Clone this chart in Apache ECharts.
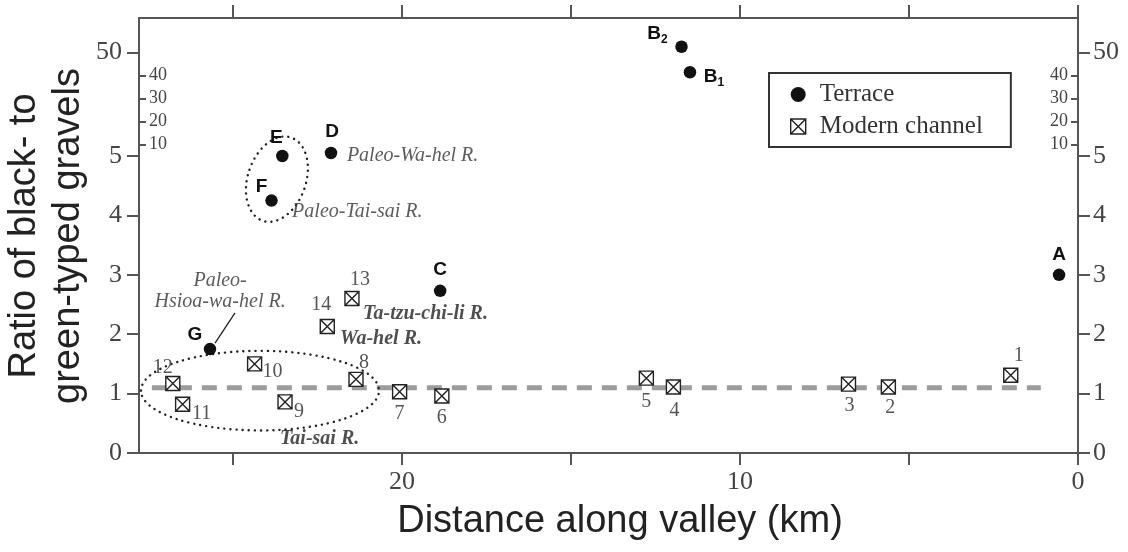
<!DOCTYPE html>
<html>
<head>
<meta charset="utf-8">
<title>Black / green gravel ratio along valley</title>
<script src="https://cdn.jsdelivr.net/npm/echarts@6/dist/echarts.min.js"></script>
<style>
  html, body { margin: 0; padding: 0; background: #fff; }
  #chart { width: 1128px; height: 552px; }
</style>
</head>
<body>
<div id="chart"></div>
<script>
// terrace samples (filled dots)
const terraceNames = ['A', 'B1', 'B2', 'C', 'D', 'E', 'F', 'G'];
const terraceDist = [0.56, 11.48, 11.73, 18.87, 22.1, 23.54, 23.86, 25.68];
const terraceRatio = [3.0, 41.4, 52.5, 2.73, 5.05, 5.0, 4.25, 1.75];

// modern channel samples (crossed squares)
const channelIds = ['1', '2', '3', '4', '5', '6', '7', '8', '9', '10', '11', '12', '13', '14'];
const channelDist = [1.99, 5.61, 6.79, 11.97, 12.77, 18.82, 20.07, 21.36, 23.46, 24.36, 26.49, 26.78, 21.48, 22.21];
const channelRatio = [1.31, 1.11, 1.16, 1.11, 1.26, 0.96, 1.03, 1.24, 0.86, 1.50, 0.82, 1.17, 2.60, 2.13];

// dashed reference line
const meanRatio = 1.1;
const meanLineDist = [27.4, 1.1];

// river annotations
const noteText = ['Paleo-Wa-hel R.', 'Paleo-Tai-sai R.', 'Paleo-\nHsioa-wa-hel R.', 'Ta-tzu-chi-li R.', 'Wa-hel R.', 'Tai-sai R.'];
const noteDist = [21.63, 23.25, 25.38, 21.15, 21.83, 23.61];
const noteRatio = [5.0, 4.06, 2.73, 2.34, 1.92, 0.24];
const noteBold = [false, false, false, true, true, true];

// leader line G -> Paleo-Hsioa-wa-hel R.
const leaderDist = [24.94, 25.53];
const leaderRatio = [2.36, 1.85];

// dotted groupings (centre, half extents)
const ellipseDist = [23.7, 24.2];
const ellipseRatio = [4.61, 1.05];
const ellipseHalfDist = [0.86, 3.52];
const ellipseHalfRatio = [0.74, 0.67];

// axis ticks
const distTicks = [0, 5, 10, 15, 20, 25];
const distLabels = [0, 10, 20];
const ratioTicksLow = [0, 1, 2, 3, 4, 5];
const ratioTicksHigh = [50];
const ratioTicksHighInner = [10, 20, 30, 40];

const DIST_MAX = 27.78;
const SPLIT = 5.1;   // above this a point goes to the compressed upper panel

const SERIF = '"Liberation Serif", "Times New Roman", serif';
const SANS = '"Liberation Sans", Arial, sans-serif';
const AX = '#555';
const LBL = '#444';

const terraceLabelOffset = {
  A: [0, -20], B1: [24, 4], B2: [-24, -13], C: [0, -21],
  D: [1, -21], E: [-6, -18], F: [-10, -14], G: [-15, -14]
};
const channelLabelOffset = {
  '1': [8, -19], '2': [2, 21], '3': [1, 22], '4': [1, 24], '5': [0, 24],
  '6': [0, 22], '7': [0, 22], '8': [8, -17], '9': [14, 10], '10': [18, 8],
  '11': [19, 9], '12': [-10, -16], '13': [8, -19], '14': [-6, -22]
};

const CHANNEL_SYMBOL = 'path://M0,0H20V20H0Z M0,0L20,20 M20,0L0,20';

function terraceItem(i) {
  const n = terraceNames[i];
  return {
    name: n,
    value: [terraceDist[i], terraceRatio[i]],
    label: { offset: terraceLabelOffset[n] }
  };
}
const terraceIdx = terraceNames.map((_, i) => i);
const terraceLow = terraceIdx.filter(i => terraceRatio[i] <= SPLIT).map(terraceItem);
const terraceHigh = terraceIdx.filter(i => terraceRatio[i] > SPLIT).map(terraceItem);

const terraceLabel = {
  show: true,
  position: 'inside',
  formatter: p => p.name.length > 1 ? '{b|' + p.name[0] + '}{s|' + p.name.slice(1) + '}' : '{b|' + p.name + '}',
  rich: {
    b: { fontFamily: SANS, fontWeight: 'bold', fontSize: 19, color: '#111', lineHeight: 24 },
    s: { fontFamily: SANS, fontWeight: 'bold', fontSize: 12, color: '#111', lineHeight: 12, verticalAlign: 'bottom' }
  }
};

function axisCommon() {
  return {
    type: 'value',
    axisLine: { show: true, onZero: false, lineStyle: { color: AX, width: 2 } },
    axisTick: { show: true, length: 12, lineStyle: { color: AX, width: 2 } },
    axisLabel: { fontFamily: SERIF, fontSize: 26, color: LBL },
    splitLine: { show: false }
  };
}

function xAxis(grid, position, showLabels) {
  const a = axisCommon();
  return Object.assign(a, {
    gridIndex: grid, min: 0, max: DIST_MAX, inverse: true, position: position,
    axisTick: Object.assign(a.axisTick, { customValues: distTicks, length: position === 'top' ? 13 : 12 }),
    axisLabel: Object.assign(a.axisLabel, { show: showLabels, customValues: distLabels, margin: 16 })
  });
}

function yOuter(grid, position, min, max, ticks) {
  const a = axisCommon();
  return Object.assign(a, {
    gridIndex: grid, min: min, max: max, position: position,
    axisTick: Object.assign(a.axisTick, { customValues: ticks }),
    axisLabel: Object.assign(a.axisLabel, { customValues: ticks, margin: position === 'left' ? 17 : 15 })
  });
}

function yInner(grid, position) {
  const a = axisCommon();
  return Object.assign(a, {
    gridIndex: grid, min: 5, max: 65, position: position,
    axisLine: { show: false, onZero: false },
    axisTick: Object.assign(a.axisTick, { customValues: ratioTicksHighInner, inside: true, length: 7 }),
    axisLabel: Object.assign(a.axisLabel, { customValues: ratioTicksHighInner, inside: true, margin: 10, fontSize: 18 })
  });
}

const gridBox = { left: 139, right: 50, outerBoundsMode: 'none', containLabel: false };

const option = {
  animation: false,
  backgroundColor: '#fff',
  grid: [
    Object.assign({ top: 156, bottom: 99 }, gridBox),
    Object.assign({ top: 18, height: 138 }, gridBox),
    Object.assign({ top: 18, height: 138 }, gridBox)
  ],
  xAxis: [
    xAxis(0, 'bottom', true),
    xAxis(1, 'top', false),
    { gridIndex: 2, type: 'value', show: false, min: 0, max: DIST_MAX, inverse: true }
  ],
  yAxis: [
    yOuter(0, 'left', 0, 5, ratioTicksLow),
    yOuter(0, 'right', 0, 5, ratioTicksLow),
    yOuter(1, 'left', 5, 65, ratioTicksHigh),
    yOuter(1, 'right', 5, 65, ratioTicksHigh),
    yInner(2, 'left'),
    yInner(2, 'right')
  ],
  legend: {
    orient: 'vertical',
    left: 769,
    top: 73,
    padding: [9, 28, 8, 21],
    itemGap: 7,
    itemWidth: 15,
    itemHeight: 15,
    borderColor: '#333',
    borderWidth: 2,
    textStyle: { fontFamily: SERIF, fontSize: 25, color: '#333', padding: [0, 0, 0, 9] },
    data: [
      { name: 'Terrace', icon: 'circle', itemStyle: { color: '#111' } },
      { name: 'Modern channel', icon: CHANNEL_SYMBOL, itemStyle: { color: '#fff', borderColor: '#222', borderWidth: 1.4 } }
    ]
  },
  graphic: [
    { type: 'text', x: 25, y: 236, rotation: Math.PI / 2,
      style: { text: 'Ratio of black- to', fontFamily: SANS, fontSize: 38, fill: '#222', align: 'center', verticalAlign: 'middle' } },
    { type: 'text', x: 69, y: 236, rotation: Math.PI / 2,
      style: { text: 'green-typed gravels', fontFamily: SANS, fontSize: 38, fill: '#222', align: 'center', verticalAlign: 'middle' } },
    { type: 'text', x: 620, y: 522,
      style: { text: 'Distance along valley (km)', fontFamily: SANS, fontSize: 38, fill: '#222', align: 'center', verticalAlign: 'middle' } }
  ],
  series: [
    {
      name: 'mean', type: 'line', xAxisIndex: 0, yAxisIndex: 0, silent: true, z: 1,
      symbol: 'none',
      data: meanLineDist.map(d => [d, meanRatio]),
      lineStyle: { color: '#9c9c9c', width: 5, type: [15, 10] }
    },
    {
      name: 'groups', type: 'custom', xAxisIndex: 0, yAxisIndex: 0, silent: true, z: 2, clip: false,
      data: ellipseDist.map((d, i) => [d, ellipseRatio[i], ellipseHalfDist[i], ellipseHalfRatio[i]]),
      renderItem: function (params, api) {
        const c = api.coord([api.value(0), api.value(1)]);
        const s = api.size([api.value(2), api.value(3)], [api.value(0), api.value(1)]);
        return {
          type: 'ellipse',
          x: c[0], y: c[1],
          rotation: params.dataIndex === 0 ? -0.33 : 0,
          shape: { cx: 0, cy: 0, rx: Math.abs(s[0]), ry: Math.abs(s[1]) },
          style: { fill: 'none', stroke: '#222', lineWidth: 2.4, lineDash: [0.1, 6], lineCap: 'round' }
        };
      }
    },
    {
      name: 'leader', type: 'line', xAxisIndex: 0, yAxisIndex: 0, silent: true, z: 2,
      symbol: 'none',
      data: leaderDist.map((d, i) => [d, leaderRatio[i]]),
      lineStyle: { color: '#222', width: 1.3 }
    },
    {
      name: 'Modern channel', type: 'scatter', xAxisIndex: 0, yAxisIndex: 0, z: 4, clip: false,
      symbol: CHANNEL_SYMBOL, symbolSize: 14,
      itemStyle: { color: '#fff', borderColor: '#222', borderWidth: 1.4, opacity: 1 },
      data: channelIds.map((id, i) => ({
        name: id,
        value: [channelDist[i], channelRatio[i]],
        label: { offset: channelLabelOffset[id] }
      })),
      label: { show: true, position: 'inside', formatter: '{b}', fontFamily: SERIF, fontSize: 20, color: '#555' }
    },
    {
      name: 'Terrace', type: 'scatter', xAxisIndex: 0, yAxisIndex: 0, z: 5, clip: false,
      symbol: 'circle', symbolSize: 12.5,
      itemStyle: { color: '#111', opacity: 1 },
      data: terraceLow,
      label: terraceLabel
    },
    {
      name: 'Terrace', type: 'scatter', xAxisIndex: 1, yAxisIndex: 2, z: 5, clip: false,
      symbol: 'circle', symbolSize: 12.5,
      itemStyle: { color: '#111', opacity: 1 },
      data: terraceHigh,
      label: terraceLabel
    },
    {
      name: 'notes', type: 'scatter', xAxisIndex: 0, yAxisIndex: 0, z: 6, clip: false, silent: true,
      symbolSize: 0,
      data: noteText.map((t, i) => ({
        name: t,
        value: [noteDist[i], noteRatio[i]],
        label: {
          align: t.indexOf('\n') >= 0 ? 'center' : 'left',
          fontWeight: noteBold[i] ? 'bold' : 'normal',
          color: noteBold[i] ? '#222' : '#333'
        }
      })),
      label: {
        show: true, position: 'inside', formatter: '{b}',
        fontFamily: SERIF, fontStyle: 'italic', fontSize: 20, lineHeight: 21
      }
    }
  ]
};

const chart = echarts.init(document.getElementById('chart'), null, { renderer: 'canvas' });
chart.setOption(option);
</script>
</body>
</html>
